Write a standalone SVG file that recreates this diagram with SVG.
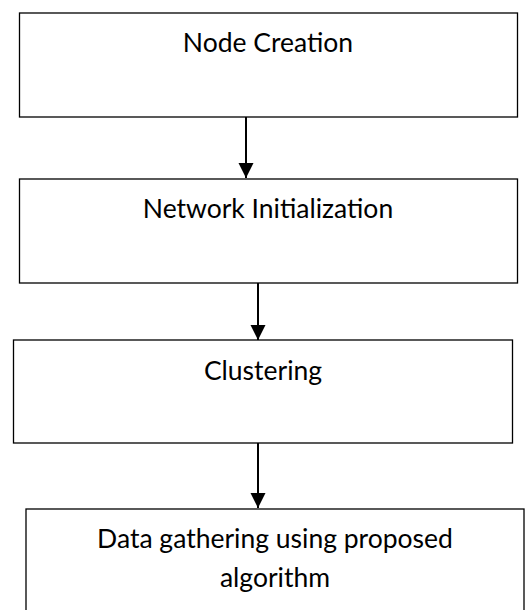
<svg xmlns="http://www.w3.org/2000/svg" width="531" height="610" viewBox="0 0 531 610">
<style>
.box{fill:#fff;stroke:#000;stroke-width:1.3}
.lbl{font-family:Lato,"Open Sans","Liberation Sans",sans-serif;font-size:26.5px;fill:#000;text-anchor:middle}
.conn{stroke:#000;stroke-width:2;fill:none}
</style>
<defs>
<marker id="arr" markerUnits="userSpaceOnUse" markerWidth="16" markerHeight="16" refX="15" refY="7.5" orient="auto">
<path d="M0,0 L15,7.5 L0,15 Z" fill="#000"/>
</marker>
</defs>
<rect width="531" height="610" fill="#fff"/>
<g id="connectors">
<line class="conn" x1="246" y1="117" x2="246" y2="178" marker-end="url(#arr)"/>
<line class="conn" x1="258" y1="283" x2="258" y2="340" marker-end="url(#arr)"/>
<line class="conn" x1="258" y1="443" x2="258" y2="508" marker-end="url(#arr)"/>
</g>
<g id="node1">
<rect class="box" x="19.5" y="13" width="498" height="104"/>
<text class="lbl" x="268" y="52">Node Creation</text>
</g>
<g id="node2">
<rect class="box" x="19.5" y="179" width="498" height="104"/>
<text class="lbl" x="268" y="218">Network Initialization</text>
</g>
<g id="node3">
<rect class="box" x="13.5" y="340" width="499" height="103"/>
<text class="lbl" x="263" y="380">Clustering</text>
</g>
<g id="node4">
<rect class="box" x="26" y="509" width="498" height="120"/>
<text class="lbl" x="275" y="548">Data gathering using proposed</text>
<text class="lbl" x="275" y="587">algorithm</text>
</g>
</svg>
